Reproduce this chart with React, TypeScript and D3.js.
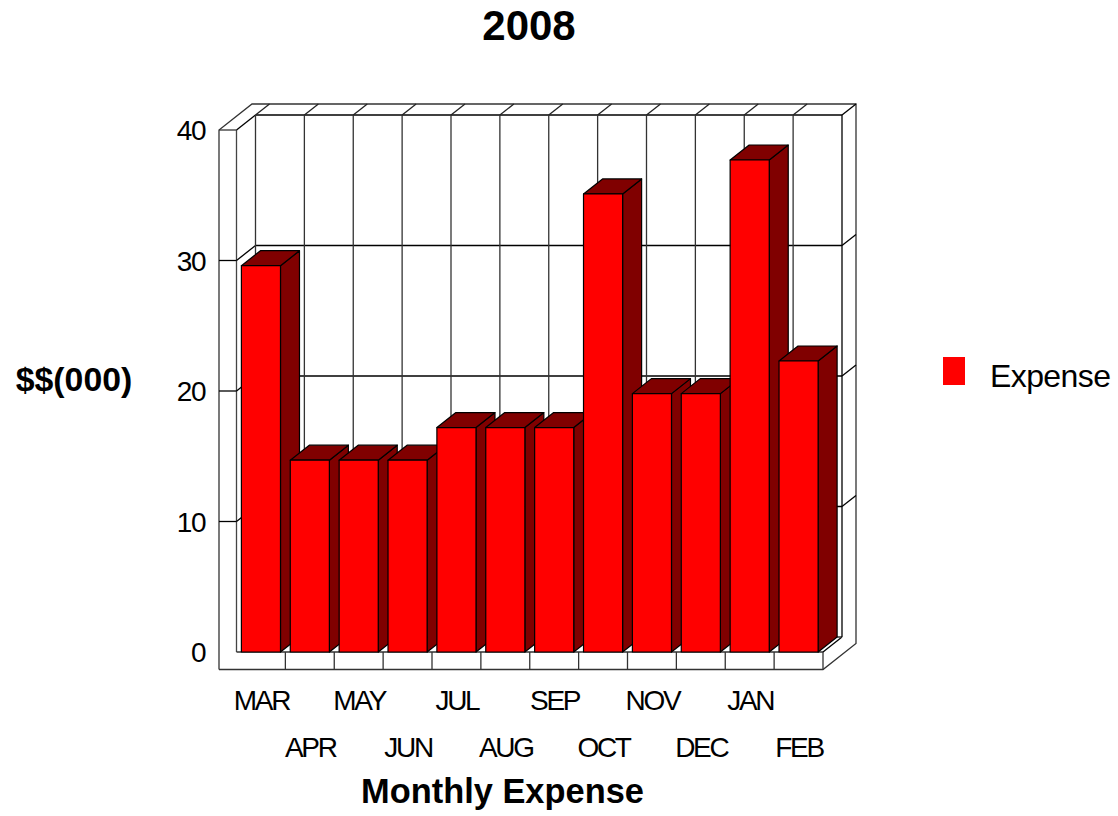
import React from "react";
import * as d3 from "d3";

const months = ["MAR", "APR", "MAY", "JUN", "JUL", "AUG", "SEP", "OCT", "NOV", "DEC", "JAN", "FEB"];
const expense = [29.6, 14.7, 14.7, 14.7, 17.2, 17.2, 17.2, 35.1, 19.8, 19.8, 37.7, 22.3];
const valueTicks = [0, 10, 20, 30, 40];

const FONT = "'Liberation Sans', Arial, sans-serif";
const RED = "#ff0000";
const DARK = "#800000";

// Front plane of the plot box; the back wall sits up and to the right of it.
const y = d3.scaleLinear().domain([0, 40]).range([652, 130]);
const x = d3.scaleBand<string>().domain(months).range([236.5, 823]).paddingInner(0.2).paddingOuter(0.1);
const step = x.step();
const depth = { dx: 19, dy: -15 };
const rim = { dx: 14, dy: -11 };
const left = 236.5;
const right = 823;
const outerLeft = 219;
const floorY = 669.5;

const poly = (pts: number[][]) => pts.map((p) => p.join(",")).join(" ");

function Line(p: { a: number[]; b: number[]; stroke?: string; w?: number }) {
  return <line x1={p.a[0]} y1={p.a[1]} x2={p.b[0]} y2={p.b[1]} stroke={p.stroke ?? "#000"} strokeWidth={p.w ?? 1.3} />;
}

export default function App() {
  const backLeft = left + depth.dx;
  const backRight = right + depth.dx;
  const top = y(40);
  const base = y(0);
  const slots = months.map((_, i) => left + i * step);
  return (
    <svg width={1118} height={816} style={{ position: "absolute", left: 0, top: 0, background: "#fff" }} fontFamily={FONT}>
      <text x={529} y={40} textAnchor="middle" fontSize={42} fontWeight="bold">2008</text>

      {/* Outer frame of the box */}
      <polyline fill="none" stroke="#333" strokeWidth={1.3} points={poly([
        [outerLeft, floorY], [outerLeft, top], [outerLeft + 33, top - 26],
        [backRight + rim.dx, top - 26], [backRight + rim.dx, floorY - 26], [right, floorY], [outerLeft, floorY],
      ])} />
      <Line a={[outerLeft, top]} b={[left, top]} stroke="#333" />
      <Line a={[left, top]} b={[left, base]} stroke="#444" />
      <Line a={[left, base]} b={[right, base]} stroke="#333" />
      <Line a={[right, base]} b={[right, floorY]} stroke="#333" />
      <Line a={[right, base]} b={[backRight, base + depth.dy]} />
      <Line a={[left, top]} b={[backLeft, top + depth.dy]} />

      {/* Back wall: value grid lines and their returns along the side walls */}
      {valueTicks.map((v) => (
        <g key={v}>
          {v > 0 && <Line a={[backLeft, y(v) + depth.dy]} b={[backRight, y(v) + depth.dy]} />}
          {v > 0 && v < 40 && <Line a={[outerLeft, y(v)]} b={[left, y(v)]} />}
          {v > 0 && v < 40 && <Line a={[left, y(v)]} b={[backLeft, y(v) + depth.dy]} />}
          {v > 0 && <Line a={[backRight, y(v) + depth.dy]} b={[backRight + rim.dx, y(v) + depth.dy + rim.dy]} />}
          <text x={205} y={y(v) + 10} textAnchor="end" fontSize={28} letterSpacing={-1.5}>{v}</text>
        </g>
      ))}
      {slots.map((sx, i) => (
        <g key={i}>
          <Line a={[sx + depth.dx, top + depth.dy]} b={[sx + depth.dx, base + depth.dy]} stroke="#333" />
          <Line a={[sx + depth.dx, top + depth.dy]} b={[sx + depth.dx + rim.dx, top + depth.dy + rim.dy]} stroke="#222" />
          {i > 0 && <Line a={[sx, base]} b={[sx, floorY]} stroke="#333" />}
        </g>
      ))}
      <Line a={[backLeft, base + depth.dy]} b={[backRight, base + depth.dy]} stroke="#333" />
      <Line a={[backRight, top + depth.dy]} b={[backRight, base + depth.dy]} />

      {/* Bars with their top and side faces */}
      {months.map((m, i) => {
        const x0 = x(m)!;
        const x1 = x0 + x.bandwidth();
        const yt = y(expense[i]);
        return (
          <g key={m} stroke="#000" strokeWidth={1.2} strokeLinejoin="round">
            <polygon fill={DARK} points={poly([[x1, yt], [x1 + depth.dx, yt + depth.dy], [x1 + depth.dx, base + depth.dy], [x1, base]])} />
            <polygon fill={DARK} points={poly([[x0, yt], [x0 + depth.dx, yt + depth.dy], [x1 + depth.dx, yt + depth.dy], [x1, yt]])} />
            <rect x={x0} y={yt} width={x.bandwidth()} height={base - yt} fill={RED} />
          </g>
        );
      })}

      {/* Month labels stagger over two rows */}
      {months.map((m, i) => (
        <text key={m} x={x(m)! + x.bandwidth() / 2 + 0.5} y={i % 2 === 0 ? 710 : 757} textAnchor="middle" fontSize={28} letterSpacing={-2.3}>{m}</text>
      ))}

      <text x={502.5} y={803} textAnchor="middle" fontSize={34.4} fontWeight="bold">Monthly Expense</text>
      <text x={74} y={391} textAnchor="middle" fontSize={33.8} fontWeight="bold">$$(000)</text>

      <rect x={943} y={357} width={22} height={28} fill={RED} />
      <text x={990} y={387} fontSize={32} letterSpacing={-0.6}>Expense</text>
    </svg>
  );
}
